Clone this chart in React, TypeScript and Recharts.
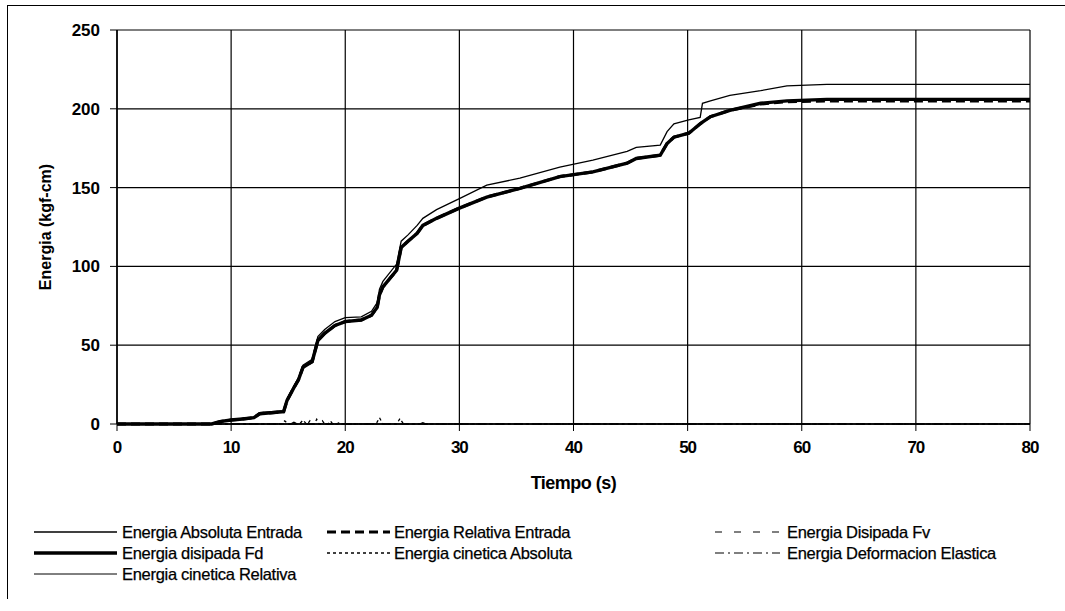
import React from 'react';
import { LineChart, Line, XAxis, YAxis, CartesianGrid, Legend, Label } from 'recharts';

// ---- data ----
const tMain = [0, 8.3, 9, 10, 11, 12, 12.5, 14.6, 14.9, 15.5, 15.9, 16.3, 17.1, 17.6, 18.2, 19.1, 20, 21.4, 22.3, 22.8, 23.0, 23.3, 24.5, 24.9, 25.5, 26.3, 26.8, 28, 30, 32.4, 35.3, 38.8, 41.7, 44.7, 45.5, 47.6, 48.2, 48.8, 50.1, 51.1, 51.3, 52, 53.7, 56.4, 58.7, 62.2, 70, 80];
const absolutaEntrada = [0, 0, 1.6, 2.7, 3.5, 4.4, 7.2, 8.5, 15.8, 24.2, 29.3, 37.3, 41, 55.5, 60, 65, 67.5, 68, 71.5, 77, 85.5, 90.5, 101.5, 116, 120, 126, 130.5, 136, 143, 151.5, 156, 163, 167.5, 173, 175.5, 177, 185.5, 190.5, 193, 194.5, 203.5, 205, 208.5, 211.5, 214.5, 215.5, 215.5, 215.5];
const disipadaFd = [0, 0, 1.5, 2.5, 3.2, 4, 6.5, 7.8, 15, 23, 28, 36, 39.5, 53, 57.5, 62.5, 65, 66, 69, 74, 82, 87, 97.5, 112, 116, 121, 126, 130.5, 137, 144, 149.5, 157, 160, 165.5, 168.5, 170.5, 178, 182, 184.5, 190.5, 191.5, 195, 199, 203.5, 205, 206, 206, 206];
const relativaEntrada = [0, 0, 1.5, 2.5, 3.2, 4, 6.5, 7.8, 15, 23, 28, 36, 39.5, 53, 57.5, 62.5, 65, 66, 69, 74, 82, 87, 97.5, 112, 116, 121, 126, 130.5, 137, 144, 149.5, 157, 160, 165.5, 168.5, 170.5, 178, 182, 184.5, 190.5, 191.5, 195, 199, 203, 204.5, 205, 205, 205];

const tFv = [0, 80];
const disipadaFv = [0, 0];

const tCinAbs = [0, 14.4, 14.7, 15.0, 16.0, 16.3, 16.6, 16.7, 16.9, 17.1, 17.3, 17.5, 17.7, 17.8, 18.0, 18.2, 18.5, 18.7, 18.9, 22.7, 23.0, 23.3, 24.5, 24.8, 25.1, 80];
const cineticaAbsoluta = [0, 0, 2, 0, 0, 2.5, 0, 0, 2, 0, 0, 3, 0, 0, 2, 0, 0, 2, 0, 0, 4, 0, 0, 3.5, 0, 0];

const tDef = [0, 15.2, 15.5, 15.8, 18.9, 19.3, 19.6, 26.5, 26.8, 27.1, 80];
const deformacionElastica = [0, 0, 1.2, 0, 0, 1, 0, 0, 0.8, 0, 0];

const tCinRel = [0, 80];
const cineticaRelativa = [0, 0];

const xTicks = [0, 10, 20, 30, 40, 50, 60, 70, 80];
const yTicks = [0, 50, 100, 150, 200, 250];

const legendNames = [
  'Energia Absoluta Entrada',
  'Energia Relativa Entrada',
  'Energia Disipada Fv',
  'Energia disipada Fd',
  'Energia cinetica Absoluta',
  'Energia Deformacion Elastica',
  'Energia cinetica Relativa',
];

const zip = (ts: number[], vs: number[]) => ts.map((t, i) => ({ t, v: vs[i] }));

const seriesStyles = [
  { w: 1.3, dash: undefined as string | undefined },
  { w: 3, dash: '9 5' },
  { w: 1.2, dash: '7 12' },
  { w: 3.4, dash: undefined },
  { w: 1.3, dash: '3 3' },
  { w: 1.2, dash: '9 4 2 4' },
  { w: 1, dash: undefined },
];

const FONT = "'Liberation Sans', Arial, sans-serif";

const legendSlots = [
  { col: 0, row: 0 }, { col: 1, row: 0 }, { col: 2, row: 0 },
  { col: 0, row: 1 }, { col: 1, row: 1 }, { col: 2, row: 1 },
  { col: 0, row: 2 },
];
const colLine = [[34, 117], [327, 390], [715, 780]];
const colText = [122, 394, 787];

const LegendContent = () => (
  <svg width={1065} height={80} style={{ display: 'block' }}>
    {legendNames.map((name, i) => {
      const { col, row } = legendSlots[i];
      const y = 10 + row * 21;
      const s = seriesStyles[i];
      return (
        <g key={name}>
          <line x1={colLine[col][0]} x2={colLine[col][1]} y1={y} y2={y} stroke="#000"
            strokeWidth={s.w} strokeDasharray={s.dash} />
          <text x={colText[col]} y={y} dy="0.35em" fontFamily={FONT} fontSize={16.5} letterSpacing={-0.3}
            stroke="#000" strokeWidth={0.25} fill="#000">{name}</text>
        </g>
      );
    })}
  </svg>
);

const YLabel = (props: any) => {
  const vb = props.viewBox || { x: 0, y: 0, width: 0, height: 0 };
  const cx = vb.x + 45;
  const cy = vb.y + vb.height / 2;
  return (
    <text x={cx} y={cy} transform={`rotate(-90 ${cx} ${cy})`} textAnchor="middle" dominantBaseline="central"
      fontFamily={FONT} fontWeight="bold" fontSize={16} fill="#000">Energia (kgf-cm)</text>
  );
};

export default function App() {
  const seriesData = [
    zip(tMain, absolutaEntrada),
    zip(tMain, relativaEntrada),
    zip(tFv, disipadaFv),
    zip(tMain, disipadaFd),
    zip(tCinAbs, cineticaAbsoluta),
    zip(tDef, deformacionElastica),
    zip(tCinRel, cineticaRelativa),
  ];
  const order = [6, 5, 4, 2, 1, 3, 0];
  return (
    <div style={{ position: 'absolute', left: 0, top: 0, width: 1065, height: 611, background: '#fff' }}>
      <div style={{ position: 'absolute', left: 7, top: 5, width: 1058, height: 593, borderTop: '1.5px solid #000', borderLeft: '1.5px solid #000' }} />
      <LineChart width={1065} height={611} margin={{ top: 30, right: 35, bottom: 117, left: 0 }}>
        <CartesianGrid stroke="#000" strokeWidth={1.2} horizontalValues={yTicks} verticalValues={xTicks} />
        <XAxis type="number" dataKey="t" domain={[0, 80]} ticks={xTicks} allowDataOverflow
          height={70} tickSize={7} tickMargin={10} stroke="#000" axisLine={{ stroke: '#000', strokeWidth: 1.5 }}
          tick={{ fill: '#000', fontFamily: FONT, fontWeight: 'bold', fontSize: 17, letterSpacing: -1 }}>
          <Label value="Tiempo (s)" position="insideBottom" offset={5}
            style={{ fontFamily: FONT, fontWeight: 'bold', fontSize: 18, letterSpacing: -0.5, fill: '#000' }} />
        </XAxis>
        <YAxis type="number" domain={[0, 250]} ticks={yTicks} width={117} tickSize={7} tickMargin={10}
          stroke="#000" axisLine={{ stroke: '#000', strokeWidth: 1.5 }}
          tick={{ fill: '#000', fontFamily: FONT, fontWeight: 'bold', fontSize: 17 }}
          label={<YLabel />} />
        <Legend verticalAlign="middle" layout="horizontal" align="center" content={<LegendContent />}
          wrapperStyle={{ top: 522, left: 0, width: 1065, height: 80 }} />
        {order.map((i) => (
          <Line key={legendNames[i]} name={legendNames[i]} data={seriesData[i]} dataKey="v" type="linear"
            stroke="#000" strokeWidth={seriesStyles[i].w} strokeDasharray={seriesStyles[i].dash}
            dot={false} activeDot={false} isAnimationActive={false} legendType="line" />
        ))}
      </LineChart>
    </div>
  );
}
